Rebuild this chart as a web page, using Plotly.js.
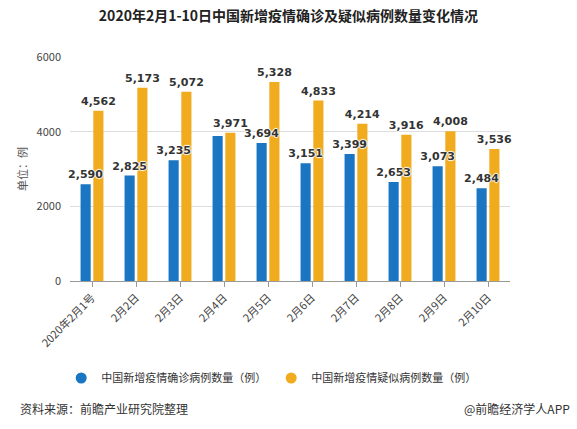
<!DOCTYPE html>
<html><head><meta charset="utf-8">
<script src="https://cdn.plot.ly/plotly-3.0.1.min.js"></script>
<style>html,body{margin:0;padding:0;background:#fff}#c{width:577px;height:429px}</style>
</head><body><div id="c"></div>
<script>
const categories = ["2020年2月1号","2月2日","2月3日","2月4日","2月5日","2月6日","2月7日","2月8日","2月9日","2月10日"];
const confirmed = [2590, 2825, 3235, 3887, 3694, 3151, 3399, 2653, 3073, 2484];
const suspected = [4562, 5173, 5072, 3971, 5328, 4833, 4214, 3916, 4008, 3536];
const confirmedShowLabel = [true, true, true, false, true, true, true, true, true, true];
const seriesNames = ['中国新增疫情确诊病例数量（例）', '中国新增疫情疑似病例数量（例）'];
const seriesColors = ['#1a75c2', '#f0ab1f'];
const yTicks = [0, 2000, 4000, 6000];

const fmt = v => v.toLocaleString('en-US');
const halo = '1px 0 1px #fff, -1px 0 1px #fff, 0 1px 1px #fff, 0 -1px 1px #fff';
const labelFont = {family: "DejaVu Sans", size: 11, color: "#333", shadow: halo};

// suspected first so that confirmed labels are drawn on top of the yellow bars
const data = [
  {type: 'bar', name: seriesNames[1], x: categories, y: suspected, showlegend: false,
   offset: 0.03, width: 0.23,
   text: suspected.map(v => '<b>' + fmt(v) + '</b>'),
   textposition: 'outside', constraintext: 'none', textfont: labelFont, cliponaxis: false,
   marker: {color: seriesColors[1]}, hoverinfo: 'none'},
  {type: 'bar', name: seriesNames[0], x: categories, y: confirmed, showlegend: false,
   offset: -0.26, width: 0.23,
   text: confirmed.map((v,i) => confirmedShowLabel[i] ? '<b>' + fmt(v) + '</b>' : ''),
   textposition: 'outside', constraintext: 'none', textfont: labelFont, cliponaxis: false,
   marker: {color: seriesColors[0]}, hoverinfo: 'none'},
  {type: 'scatter', mode: 'markers', name: seriesNames[0], x: [null], y: [null],
   marker: {color: seriesColors[0], size: 11, symbol: 'circle'}, hoverinfo: 'none'},
  {type: 'scatter', mode: 'markers', name: seriesNames[1], x: [null], y: [null],
   marker: {color: seriesColors[1], size: 11, symbol: 'circle'}, hoverinfo: 'none'}
];

const layout = {
  width: 577, height: 429,
  margin: {l: 70, r: 67, t: 57, b: 148, autoexpand: false},
  paper_bgcolor: '#fff', plot_bgcolor: '#fff',
  font: {family: '"Noto Sans CJK SC", "Noto Sans", sans-serif', color: '#333'},
  title: {text: '<b>2020年2月1-10日中国新增疫情确诊及疑似病例数量变化情况</b>',
          x: 0.5, xanchor: 'center', y: 0.975, yanchor: 'top',
          font: {size: 14, color: '#222'}},
  barmode: 'overlay',
  showlegend: true,
  legend: {orientation: 'h', xref: 'container', yref: 'container', x: 0.47, xanchor: 'center',
           y: 51 / 429, yanchor: 'middle',
           font: {size: 11, color: '#333'}, itemwidth: 30, traceorder: 'normal'},
  xaxis: {type: 'category', tickangle: -45, tickfont: {size: 11, color: '#444'},
          showline: true, linecolor: '#999', linewidth: 1,
          ticks: 'outside', ticklen: 5, tickcolor: '#999', showgrid: false},
  yaxis: {range: [0, 6000], tickvals: yTicks, ticktext: yTicks.map(String),
          tickfont: {size: 11, color: '#444'},
          showgrid: true, gridcolor: '#ddd', zeroline: false, showline: false,
          ticks: '', ticklabelstandoff: 8,
          title: {text: '单位：例', font: {size: 11, color: '#555'}, standoff: 6}},
  annotations: [
    {text: '资料来源：前瞻产业研究院整理', xref: 'paper', yref: 'paper', x: -0.118, xanchor: 'left',
     y: -0.567, yanchor: 'middle', showarrow: false, font: {size: 12, color: '#333'}},
    {text: '@前瞻经济学人APP', xref: 'paper', yref: 'paper', x: 1.14, xanchor: 'right',
     y: -0.567, yanchor: 'middle', showarrow: false, font: {size: 12, color: '#333'}}
  ]
};

Plotly.newPlot('c', data, layout, {displayModeBar: false, staticPlot: true});
</script></body></html>
